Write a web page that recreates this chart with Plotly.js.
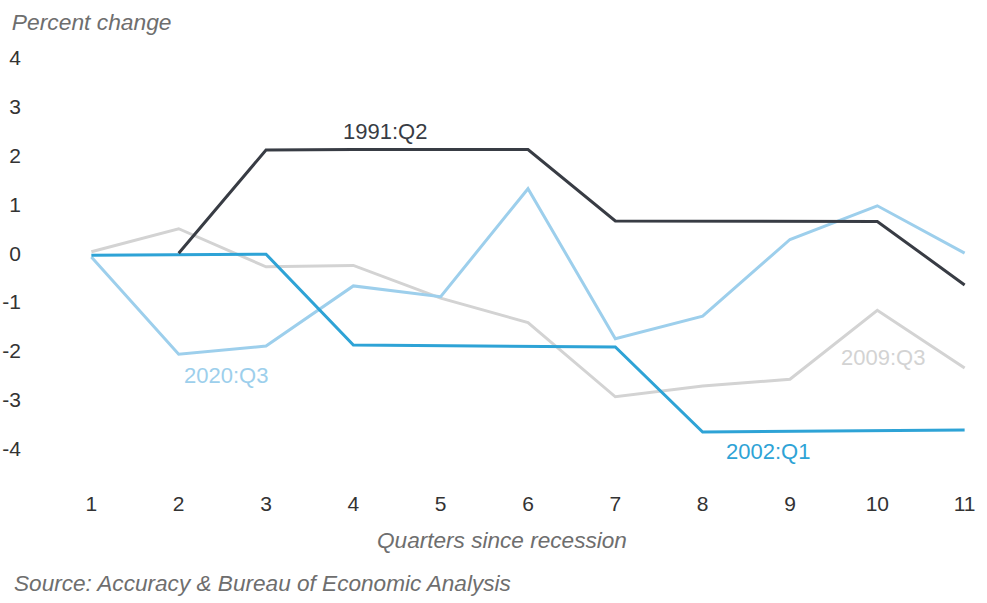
<!DOCTYPE html>
<html>
<head>
<meta charset="utf-8">
<script src="https://cdn.plot.ly/plotly-3.0.1.min.js"></script>
<style>
	html, body { margin: 0; padding: 0; background: #fff; }
	#chart { width: 987px; height: 603px; }
</style>
</head>
<body>
<div id="chart"></div>
<script>
// Quarters since recession, percent change per recession episode
const quarters = [1, 2, 3, 4, 5, 6, 7, 8, 9, 10, 11];
const r1991q2 = [null, 0.0, 2.11, 2.12, 2.12, 2.12, 0.66, 0.66, 0.65, 0.65, -0.65];
const r2002q1 = [-0.04, -0.03, -0.02, -1.88, -1.89, -1.91, -1.92, -3.66, -3.65, -3.64, -3.62];
const r2009q3 = [0.03, 0.5, -0.28, -0.25, -0.92, -1.42, -2.94, -2.72, -2.58, -1.17, -2.35];
const r2020q3 = [-0.08, -2.07, -1.9, -0.67, -0.89, 1.32, -1.75, -1.29, 0.28, 0.97, 0.0];
const yTicks = [-4, -3, -2, -1, 0, 1, 2, 3, 4];
const yTickText = ["-4", "-3", "-2", "-1", "0", "1", "2", "3", "4"];

const FONT = "Liberation Sans, Helvetica, Arial, sans-serif";

function line(y, name, color) {
	return {
		x: quarters,
		y,
		name,
		type: "scatter",
		mode: "lines",
		line: { color, width: 3 },
		connectgaps: false,
		hoverinfo: "skip",
	};
}

const traces = [
	line(r2009q3, "2009:Q3", "#d3d3d3"),
	line(r2020q3, "2020:Q3", "#9dcfec"),
	line(r2002q1, "2002:Q1", "#2ea3d6"),
	line(r1991q2, "1991:Q2", "#383c44"),
];

function seriesLabel(x, y, text, color) {
	return {
		x, y, xref: "x", yref: "y",
		text, showarrow: false,
		font: { family: FONT, size: 22, color },
	};
}

function paperText(x, y, text, anchor) {
	return {
		xref: "paper", yref: "paper",
		x, y, xanchor: anchor, yanchor: "middle",
		text, showarrow: false,
		font: { family: FONT, size: 22.6, color: "#6e6e6e" },
	};
}

const layout = {
	width: 987,
	height: 603,
	paper_bgcolor: "#fff",
	plot_bgcolor: "#fff",
	showlegend: false,
	margin: { l: 87, r: 18, t: 48, b: 130 },
	font: { family: FONT, size: 21, color: "#333" },
	title: {
		text: "<i>Percent change</i>",
		x: 0.012, xanchor: "left",
		y: 0.963, yanchor: "middle",
		font: { family: FONT, size: 22.8, color: "#6e6e6e" },
	},
	xaxis: {
		range: [0.95, 11.05],
		tickvals: quarters,
		showgrid: false,
		zeroline: false,
		showline: false,
		ticks: "",
		ticklabelstandoff: 16,
		tickfont: { family: FONT, size: 21, color: "#333" },
	},
	yaxis: {
		range: [-4.5, 4.2],
		tickvals: yTicks,
		ticktext: yTickText,
		showgrid: false,
		zeroline: false,
		showline: false,
		ticks: "",
		ticklabelstandoff: 65,
		tickfont: { family: FONT, size: 21, color: "#333" },
	},
	annotations: [
		seriesLabel(4.36, 2.5, "1991:Q2", "#383c44"),
		seriesLabel(2.54, -2.5, "2020:Q3", "#9dcfec"),
		seriesLabel(8.75, -4.05, "2002:Q1", "#2ea3d6"),
		seriesLabel(10.07, -2.13, "2009:Q3", "#d3d3d3"),
		paperText(0.4705, -0.158, "<i>Quarters since recession</i>", "center"),
		paperText(-0.085, -0.259, "<i>Source: Accuracy &amp; Bureau of Economic Analysis</i>", "left"),
	],
};

Plotly.newPlot("chart", traces, layout, { displayModeBar: false, staticPlot: true });
</script>
</body>
</html>
